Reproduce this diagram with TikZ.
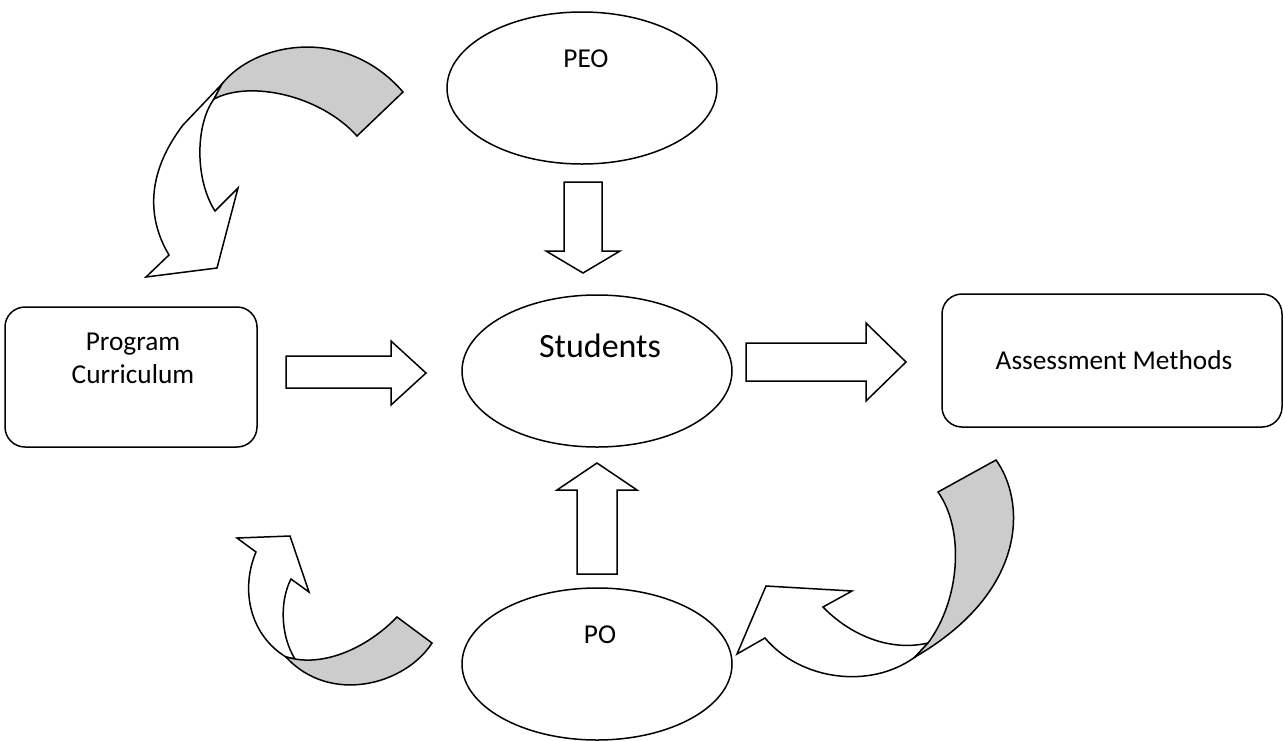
\documentclass[tikz,border=0pt]{standalone}
\usepackage{fontspec}
\setmainfont{Carlito}
\usetikzlibrary{shapes.geometric,calc}
\definecolor{bandgray}{RGB}{204,204,204}
\tikzset{
  outl/.style={draw=black,line width=1.5pt,line join=miter},
  oval/.style={ellipse,outl,minimum width=270pt,minimum height=152pt,inner sep=0pt},
  rbox/.style={rectangle,rounded corners=20pt,outl,inner sep=0pt},
  blockarrow/.style={outl,fill=white},
  band/.style={outl,fill=bandgray},
  curvearrow/.style={outl,fill=white},
  txt/.style={font=\fontsize{27.3}{33}\selectfont,anchor=base,inner sep=0pt},
  bigtxt/.style={font=\fontsize{34}{40}\selectfont,anchor=base,inner sep=0pt}
}
\begin{document}
\begin{tikzpicture}[x=1pt,y=-1pt]
\useasboundingbox (0,0) rectangle (1283,740);
\fill[white] (0,0) rectangle (1283,740);

% ellipses
\node[oval] (peo) at (582,88) {};
\node[oval] (stu) at (597,371) {};
\node[oval] (po) at (597,664) {};
\node[txt] (peot) at (586,67) {PEO};
\node[bigtxt] (stut) at (600,357) {Students};
\node[txt] (pot) at (600,643) {PO};

% boxes
\node[rbox,minimum width=252pt,minimum height=140pt] (pc) at (131,377) {};
\node[txt] (pct1) at (133,350) {Program};
\node[txt] (pct2) at (133,383) {Curriculum};
\node[rbox,minimum width=340pt,minimum height=133pt] (am) at (1112,360.5) {};
\node[txt] (amt) at (1114,369) {Assessment Methods};

% block arrows
\draw[blockarrow] (564,182) -- (602,182) -- (602,251) -- (620,251) -- (583,273) -- (546,251) -- (564,251) -- cycle;
\draw[blockarrow] (286,356) -- (391,356) -- (391,341) -- (426,373) -- (391,405) -- (391,388) -- (286,388) -- cycle;
\draw[blockarrow] (746,343) -- (866,343) -- (866,323) -- (906,362) -- (866,401) -- (866,381) -- (746,381) -- cycle;
\draw[blockarrow] (577,574) -- (577,490) -- (557,490) -- (597,463) -- (637,490) -- (617,490) -- (617,574) -- cycle;

% top-left curved arrow
\draw[curvearrow] (214,99) .. controls (195,125) and (195,180) .. (215,211)
  -- (238,188) -- (217,268) -- (146,277) -- (169,255)
  .. controls (148,220) and (145,175) .. (183,125) -- (222,84) -- cycle;
\draw[band] (222,84) .. controls (255,42) and (345,25) .. (403,92)
  -- (357,136) .. controls (320,95) and (250,80) .. (214,99) -- cycle;

% bottom-right curved arrow
\draw[curvearrow] (928,643) .. controls (890,652) and (850,635) .. (823,607)
  -- (852,591) -- (766,586) -- (737,654) -- (765,638)
  .. controls (800,680) and (870,690) .. (915,657) -- cycle;
\draw[band] (938,492) -- (996,460) .. controls (1025,500) and (1030,590) .. (915,657)
  -- (928,643) .. controls (960,600) and (965,530) .. (938,492) -- cycle;

% bottom-left curved arrow
\draw[curvearrow] (295,659) .. controls (280,635) and (280,600) .. (291,579)
  -- (309,592) -- (290,536) -- (237,538) -- (256,552)
  .. controls (240,590) and (250,635) .. (286,657) -- cycle;
\draw[band] (295,659) .. controls (330,665) and (370,645) .. (397,617)
  -- (432,643) .. controls (405,685) and (330,705) .. (286,657) -- cycle;
\end{tikzpicture}
\end{document}
